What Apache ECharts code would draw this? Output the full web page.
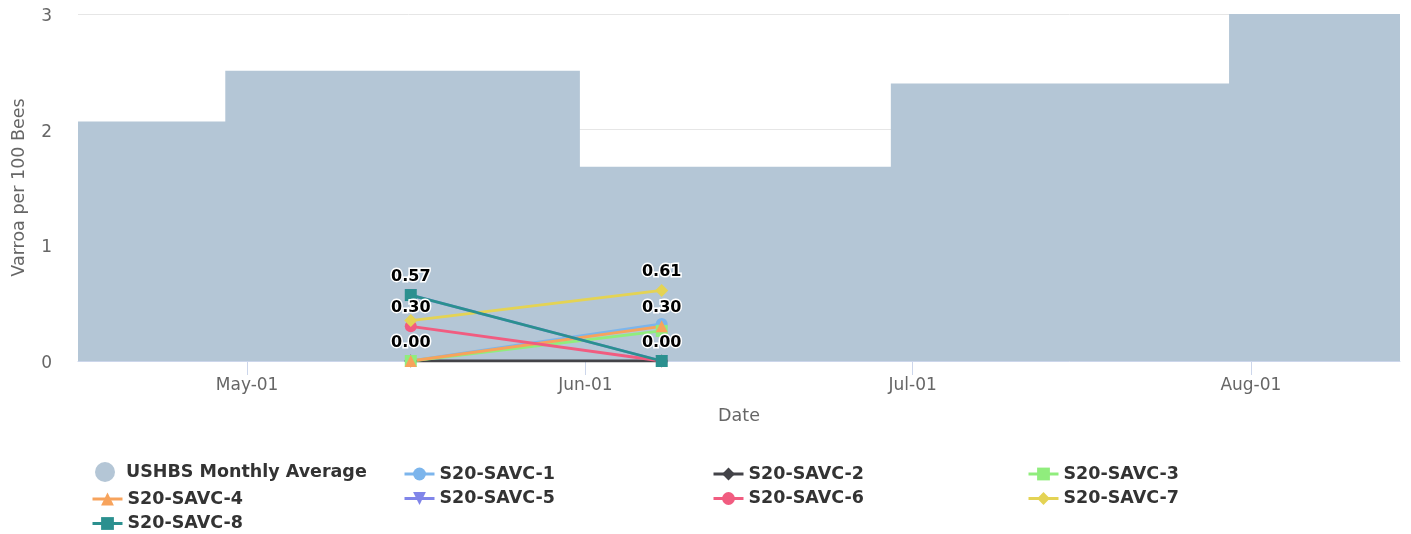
<!DOCTYPE html>
<html>
<head>
<meta charset="utf-8">
<script src="https://cdn.jsdelivr.net/npm/echarts@6/dist/echarts.min.js"></script>
<style>
html,body{margin:0;padding:0;background:#fff;}
#chart{width:1411px;height:534px;}
</style>
</head>
<body>
<div id="chart"></div>
<script>
// ---- Data ----
const avgName = 'USHBS Monthly Average';
// step boundaries of the monthly average band (value holds until next date)
const avgDates = ['2020-04-15T12:00', '2020-04-29T00:00', '2020-05-31T12:00', '2020-06-29T00:00', '2020-07-30T00:00', '2020-08-14T16:00'];
const avgValues = [2.07, 2.51, 1.68, 2.40, 3.00, 3.00];

const sampleDates = ['2020-05-16T00:00', '2020-06-08T00:00'];
const seriesNames = ['S20-SAVC-1', 'S20-SAVC-2', 'S20-SAVC-3', 'S20-SAVC-4', 'S20-SAVC-5', 'S20-SAVC-6', 'S20-SAVC-7', 'S20-SAVC-8'];
const savc1 = [0.00, 0.32];
const savc2 = [0.00, 0.00];
const savc3 = [0.00, 0.26];
const savc4 = [0.00, 0.30];
const savc5 = [0.57, 0.00];
const savc6 = [0.30, 0.00];
const savc7 = [0.35, 0.61];
const savc8 = [0.57, 0.00];
const seriesValues = [savc1, savc2, savc3, savc4, savc5, savc6, savc7, savc8];

const xTickDates = ['2020-05-01', '2020-06-01', '2020-07-01', '2020-08-01'];
const yTicks = [0, 1, 2, 3];

// ---- presentation ----
const colors = ['#7cb5ec', '#434348', '#90ed7d', '#f7a35c', '#8085e9', '#f15c80', '#e4d354', '#2b908f'];
const symbols = ['circle', 'diamond', 'rect', 'triangle', 'triangle', 'circle', 'diamond', 'rect'];
const rotates = [0, 0, 0, 0, 180, 0, 0, 0];
// which points carry a visible data label (others hidden by overlap in the original)
const labelShown = {
  'S20-SAVC-4': [true, true],
  'S20-SAVC-6': [true, false],
  'S20-SAVC-7': [false, true],
  'S20-SAVC-8': [true, true]
};

function ts(s) {
  const [d, t] = s.split('T');
  const [y, m, dd] = d.split('-').map(Number);
  let h = 0, mi = 0;
  if (t) { [h, mi] = t.split(':').map(Number); }
  return Date.UTC(y, m - 1, dd, h, mi);
}
const MONTHS = ['Jan','Feb','Mar','Apr','May','Jun','Jul','Aug','Sep','Oct','Nov','Dec'];
function fmt(v) {
  const d = new Date(v);
  const dd = String(d.getUTCDate()).padStart(2, '0');
  return MONTHS[d.getUTCMonth()] + '-' + dd;
}

const FONT = '"DejaVu Sans", Verdana, sans-serif';

const series = [{
  name: avgName,
  type: 'line',
  step: 'end',
  data: avgDates.map((d, i) => [ts(d), avgValues[i]]),
  symbol: 'none',
  showSymbol: false,
  lineStyle: { width: 0, color: '#b4c6d6' },
  itemStyle: { color: '#b4c6d6' },
  areaStyle: { color: '#b4c6d6', opacity: 1 },
  z: 1
}];

seriesNames.forEach((name, si) => {
  const shown = labelShown[name] || [false, false];
  series.push({
    name: name,
    type: 'line',
    data: sampleDates.map((d, i) => ({
      value: [ts(d), seriesValues[si][i]],
      label: { show: shown[i] }
    })),
    symbol: symbols[si],
    symbolRotate: rotates[si],
    symbolSize: symbols[si] === 'diamond' ? 13 : 12,
    showSymbol: true,
    color: colors[si],
    lineStyle: { width: 2.8, color: colors[si] },
    itemStyle: { color: colors[si] },
    label: {
      show: false,
      position: 'top',
      distance: 4,
      formatter: p => p.value[1].toFixed(2),
      fontFamily: FONT,
      fontSize: 16,
      fontWeight: 'bold',
      color: '#000',
      textBorderColor: '#fff',
      textBorderWidth: 3
    },
    z: 3
  });
});

const legendText = { fontFamily: FONT, fontSize: 17.5, fontWeight: 'bold', color: '#333', lineHeight: 20 };
const legendBase = {
  orient: 'vertical',
  itemWidth: 30,
  itemHeight: 16,
  itemGap: 4.5,
  padding: 0,
  textStyle: legendText,
  lineStyle: { width: 3 },
  selectedMode: false
};

const option = {
  animation: false,
  backgroundColor: '#fff',
  grid: { left: 78, right: 11, top: 14, bottom: 173, containLabel: false },
  xAxis: {
    type: 'value',
    min: ts(avgDates[0]),
    max: ts(avgDates[avgDates.length - 1]),
    name: 'Date',
    nameLocation: 'middle',
    nameGap: 46,
    nameTextStyle: { fontFamily: FONT, fontSize: 17.5, color: '#666' },
    axisLine: { show: true, lineStyle: { color: '#ccd6eb', width: 1 } },
    axisTick: { show: true, length: 14, lineStyle: { color: '#ccd6eb' }, customValues: xTickDates.map(ts) },
    axisLabel: { customValues: xTickDates.map(ts), formatter: fmt, fontFamily: FONT, fontSize: 17, color: '#666', margin: 16 },
    splitLine: { show: false }
  },
  yAxis: {
    type: 'value',
    min: yTicks[0],
    max: yTicks[yTicks.length - 1],
    interval: 1,
    name: 'Varroa per 100 Bees',
    nameLocation: 'middle',
    nameGap: 50,
    nameTextStyle: { fontFamily: FONT, fontSize: 17.5, color: '#666' },
    axisLine: { show: false },
    axisTick: { show: false },
    axisLabel: {
      fontFamily: FONT, fontSize: 17, color: '#666', margin: 26,
      formatter: v => '{a|' + v + '}',
      rich: { a: { fontFamily: FONT, fontSize: 17, color: '#666', padding: [5, 0, 0, 0] } }
    },
    splitLine: { show: true, lineStyle: { color: '#e6e6e6', width: 1 } }
  },
  legend: [
    Object.assign({}, legendBase, { left: 95, top: 462, itemWidth: 32, itemHeight: 20, data: [{ name: avgName, icon: 'circle' }] }),
    Object.assign({}, legendBase, { left: 91, top: 489, data: ['S20-SAVC-4', 'S20-SAVC-8'] }),
    Object.assign({}, legendBase, { left: 403, top: 464, data: ['S20-SAVC-1', 'S20-SAVC-5'] }),
    Object.assign({}, legendBase, { left: 712, top: 464, data: ['S20-SAVC-2', 'S20-SAVC-6'] }),
    Object.assign({}, legendBase, { left: 1027, top: 464, data: ['S20-SAVC-3', 'S20-SAVC-7'] })
  ],
  series: series
};

const chart = echarts.init(document.getElementById('chart'), null, { renderer: 'canvas' });
chart.setOption(option);
</script>
</body>
</html>
